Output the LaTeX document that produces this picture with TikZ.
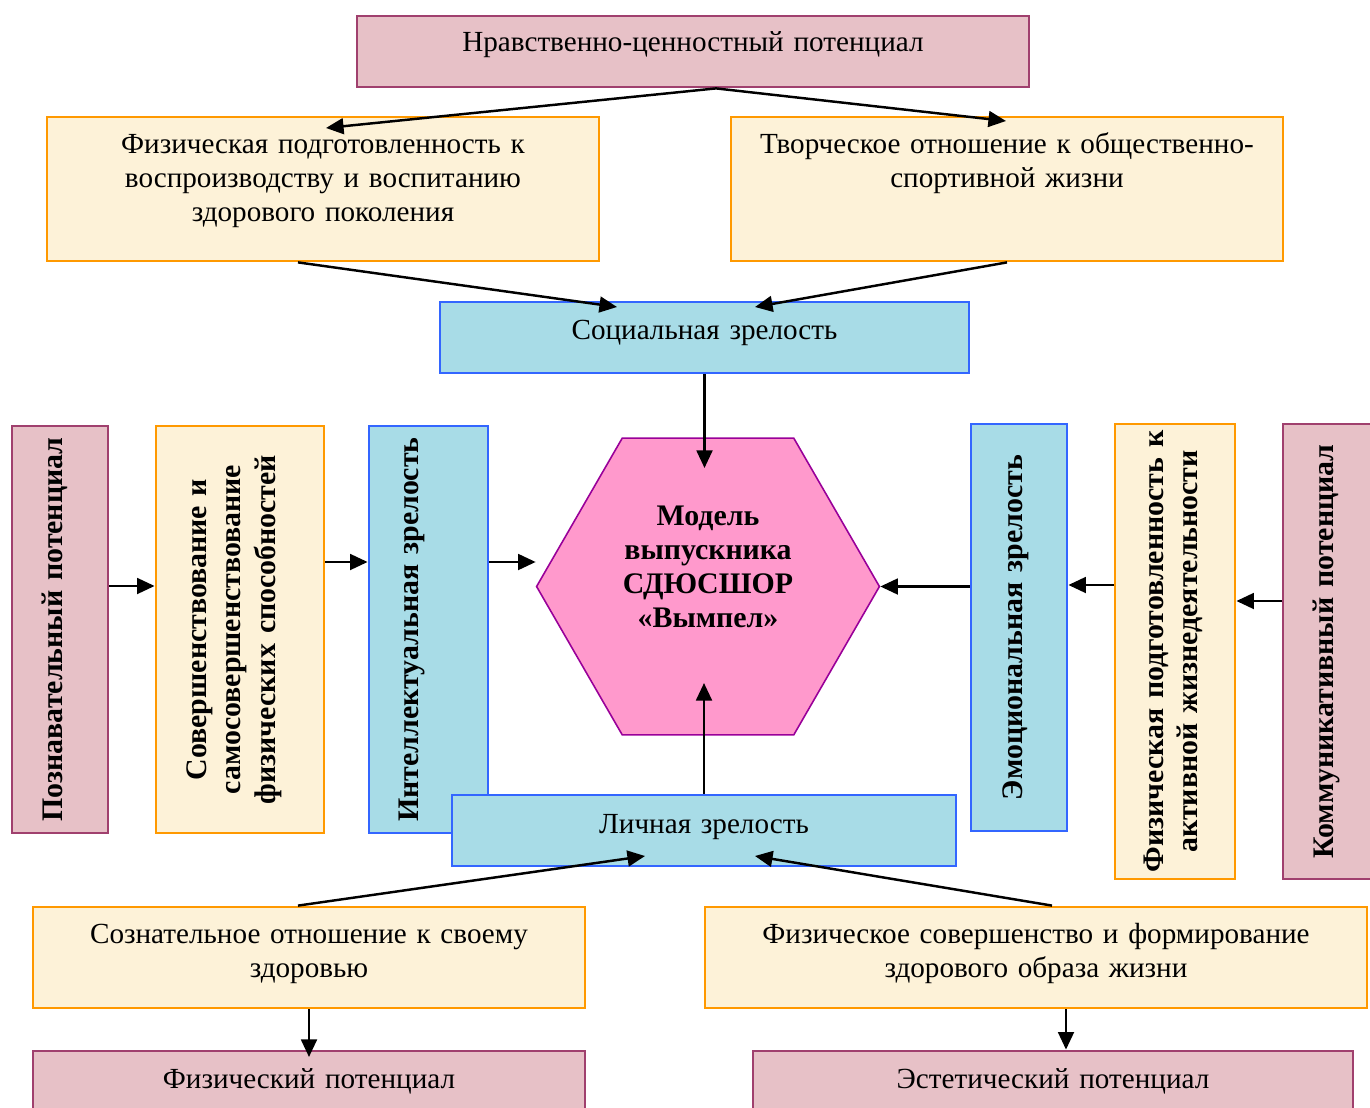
\documentclass[tikz,border=0pt]{standalone}
\usepackage{fontspec}
\setmainfont{Liberation Serif}
\usetikzlibrary{arrows.meta,shapes.geometric}

\definecolor{potFill}{RGB}{231,193,199}
\definecolor{potLine}{RGB}{160,64,110}
\definecolor{taskFill}{RGB}{253,242,216}
\definecolor{taskLine}{RGB}{255,153,0}
\definecolor{matFill}{RGB}{168,220,231}
\definecolor{matLine}{RGB}{51,102,255}
\definecolor{modelFill}{RGB}{255,153,204}
\definecolor{modelLine}{RGB}{153,0,153}

\begin{document}
\begin{tikzpicture}[%
    x=0.02cm, y=-0.02cm,
    line width=1.4pt,
    potential/.style={%
        draw=potLine,
        fill=potFill,
        line width=1.6pt,
        inner sep=0pt,
        align=center,
        font=\fontsize{16.6}{19.5}\selectfont
    },
    task/.style={%
        draw=taskLine,
        fill=taskFill,
        line width=1.6pt,
        inner sep=0pt,
        align=center,
        font=\fontsize{16.6}{19.5}\selectfont
    },
    maturity/.style={%
        draw=matLine,
        fill=matFill,
        line width=1.6pt,
        inner sep=0pt,
        align=center,
        font=\fontsize{16.6}{19.5}\selectfont
    },
    vertical/.style={%
        rotate=90,
        font=\fontsize{17}{19.8}\selectfont\bfseries
    },
    model/.style={%
        regular polygon,
        regular polygon sides=6,
        minimum size=6.7cm,
        draw=modelLine,
        fill=modelFill,
        line width=0.9pt,
        inner sep=0pt,
        align=center,
        text width=4.2cm,
        font=\fontsize{17}{19.5}\selectfont\bfseries
    },
    >={Triangle[length=10pt,width=9pt]}
]
\useasboundingbox (0,0) rectangle (1370,1108);

% Moral potential
    \node[potential, text width=13.44cm, text height=0.72cm, text depth=0.70cm] (moral) at (693,51.5) {Нравственно-ценностный потенциал};

% Upper tasks
    \node[task, text width=11.04cm, text height=0.72cm, text depth=2.16cm] (fizpod) at (323,189) {Физическая подготовленность к\\воспроизводству и воспитанию\\здорового поколения};
    \node[task, text width=11.04cm, text height=0.72cm, text depth=2.16cm] (tvorch) at (1007,189) {Творческое отношение к общественно-\\спортивной жизни};

% Social maturity
    \node[maturity, text width=10.58cm, text height=0.74cm, text depth=0.68cm] (social) at (704.5,337.5) {Социальная зрелость};

% Left column
    \node[potential, vertical, text width=8.14cm, text height=1.0cm, text depth=0.92cm] (poznav) at (60,629.5) {Познавательный потенциал};
    \node[task, vertical, text width=8.14cm, text height=1.0cm, text depth=2.36cm] (sovers) at (240,629.5) {Совершенствование и\\самосовершенствование\\физических способностей};
    \node[maturity, vertical, text width=8.14cm, text height=0.98cm, text depth=1.40cm] (intel) at (428.5,629.5) {Интеллектуальная зрелость};

% Model of the graduate
    \node[model, text height=0.5cm, text depth=2.96cm] (model) at (708,586.5) {Модель\\выпускника\\СДЮСШОР\\«Вымпел»};

% Right column
    \node[maturity, vertical, text width=8.14cm, text height=1.02cm, text depth=0.90cm] (emo) at (1019,627.5) {Эмоциональная зрелость};
    \node[task, vertical, text width=9.1cm, text height=0.96cm, text depth=1.44cm] (aktiv) at (1175,651.5) {Физическая подготовленность к\\активной жизнедеятельности};
    \node[potential, vertical, text width=9.1cm, text height=1.0cm, text depth=0.92cm] (kommun) at (1331,651.5) {Коммуникативный потенциал};

% Personal maturity
    \node[maturity, text width=10.08cm, text height=0.76cm, text depth=0.66cm] (lichn) at (704,830.5) {Личная зрелость};

% Lower tasks
    \node[task, text width=11.04cm, text height=0.72cm, text depth=1.30cm] (soznat) at (309,957.5) {Сознательное отношение к своему\\здоровью};
    \node[task, text width=13.24cm, text height=0.72cm, text depth=1.30cm] (sovfiz) at (1036,957.5) {Физическое совершенство и формирование\\здорового образа жизни};

% Lower potentials
    \node[potential, text width=11.04cm, text height=0.74cm, text depth=0.52cm] (fizpot) at (309,1082.5) {Физический потенциал};
    \node[potential, text width=12cm, text height=0.74cm, text depth=0.52cm] (estet) at (1053,1082.5) {Эстетический потенциал};

% Arrow ends
    \coordinate (fizpodIn) at (326,128);
    \coordinate (tvorchIn) at (1006,121);
    \coordinate (socialInL) at (617,307);
    \coordinate (socialInR) at (755,307);
    \coordinate (lichnInL) at (645,856);
    \coordinate (lichnInR) at (755,856);

% Arrows
\draw[->] (moral.south -| 716,0) -- (fizpodIn);
\draw[->] (moral.south -| 716,0) -- (tvorchIn);

\draw[->] (fizpod.south -| 298,0) -- (socialInL);
\draw[->] (tvorch.south) -- (socialInR);

\draw[->] (social) -- (social |- 0,468);

\draw[->] (poznav.south |- 0,586) -- (sovers.north |- 0,586);
\draw[->] (sovers.south |- 0,562) -- (intel.north |- 0,562);
\draw[->] (intel.south |- 0,562) -- (model.west |- 0,562);

\draw[->] (emo.north |- model.east) -- (model.east);
\draw[->] (aktiv.north |- 0,585) -- (emo.south |- 0,585);
\draw[->] (kommun.north |- 0,601) -- (aktiv.south |- 0,601);

\draw[->] (lichn) -- (lichn |- 0,683);

\draw[->] (soznat.north -| 298,0) -- (lichnInL);
\draw[->] (sovfiz.north -| 1052,0) -- (lichnInR);

\draw[->] (soznat) -- (soznat |- 0,1057);
\draw[->] (sovfiz.south -| 1066,0) -- (estet.north -| 1066,0);

\end{tikzpicture}
\end{document}
